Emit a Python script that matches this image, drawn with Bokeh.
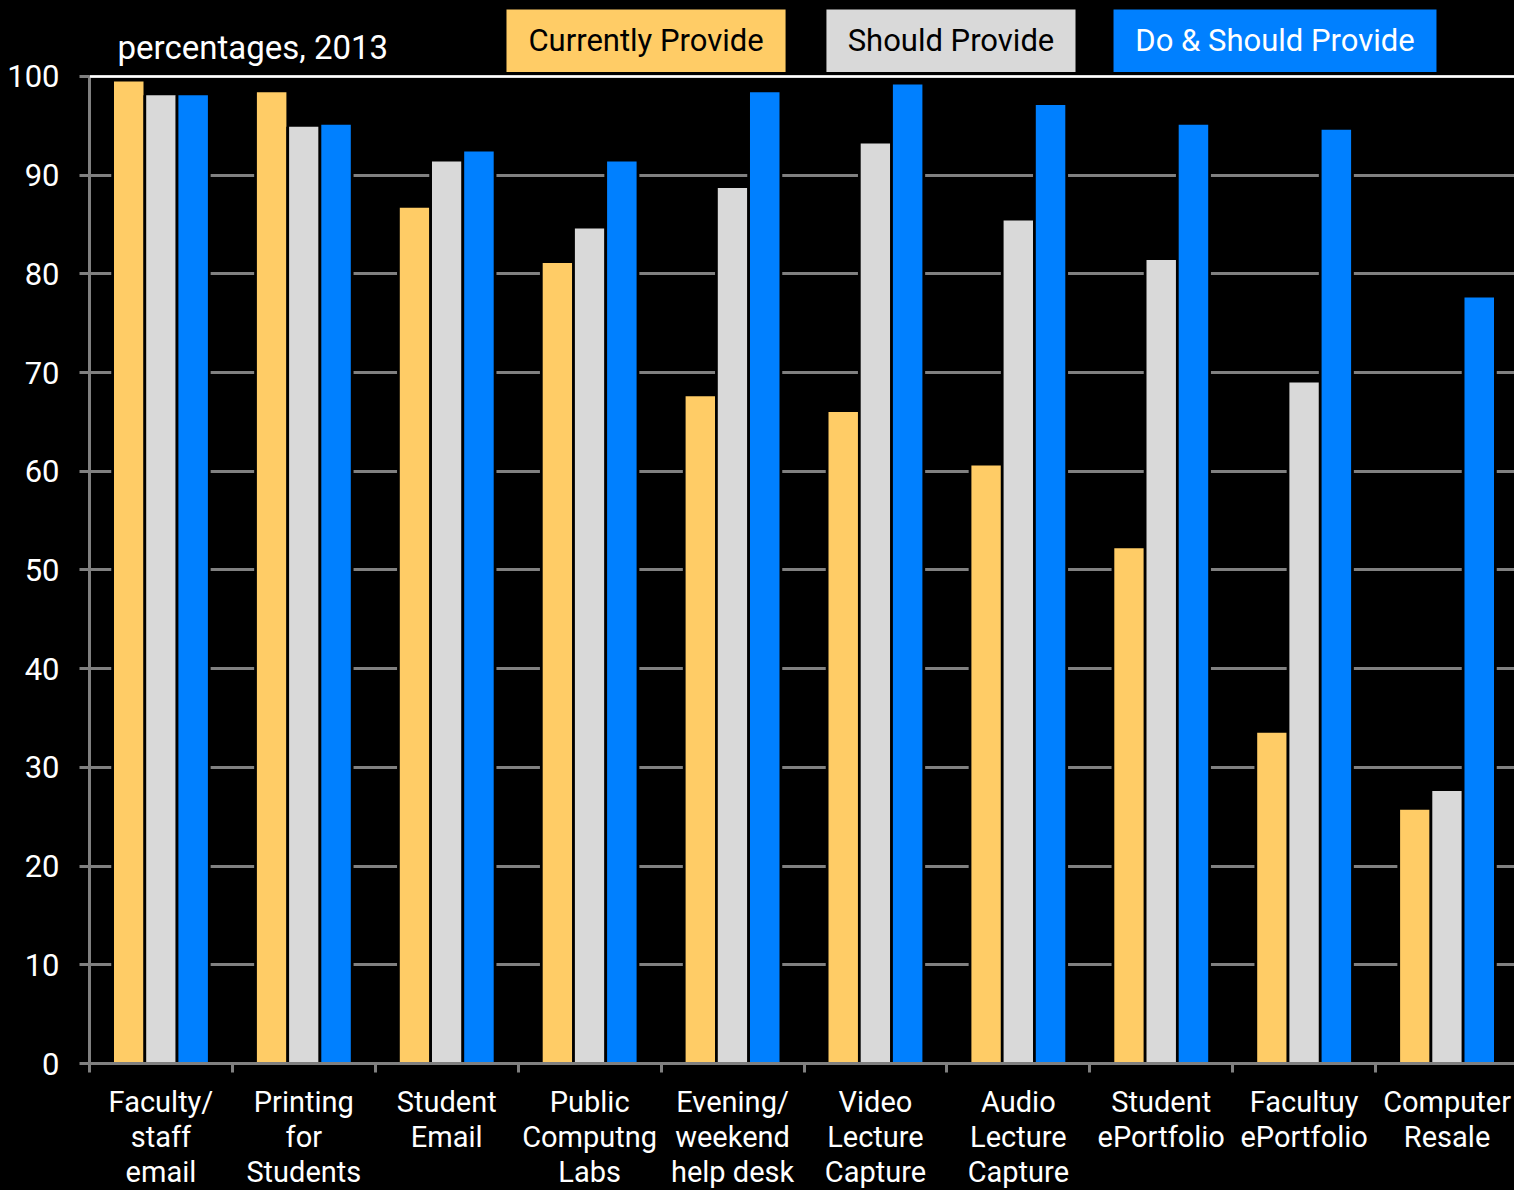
import numpy as np
from bokeh.plotting import figure
from bokeh.layouts import column
from bokeh.models import Range1d, FixedTicker, Span, ColumnDataSource
from bokeh.core.properties import value
from bokeh.embed import file_html
from bokeh.resources import INLINE

# ---------------- data ----------------
categories = ["Faculty/\nstaff\nemail", "Printing\nfor\nStudents", "Student\nEmail",
              "Public\nComputng\nLabs", "Evening/\nweekend\nhelp desk", "Video\nLecture\nCapture",
              "Audio\nLecture\nCapture", "Student\nePortfolio", "Facultuy\nePortfolio",
              "Computer\nResale"]
currently_provide = [99.5, 98.4, 86.7, 81.1, 67.6, 66.0, 60.6, 52.2, 33.5, 25.7]
should_provide = [98.1, 94.9, 91.4, 84.6, 88.7, 93.2, 85.4, 81.4, 69.0, 27.6]
do_and_should = [98.1, 95.1, 92.4, 91.4, 98.4, 99.2, 97.1, 95.1, 94.6, 77.6]
series_names = ["Currently Provide", "Should Provide", "Do & Should Provide"]
y_ticks = [0, 10, 20, 30, 40, 50, 60, 70, 80, 90, 100]
title_text = "percentages, 2013"

# ---------------- style ----------------
FONT = "Roboto"
colors = ["#FFCC66", "#D9D9D9", "#0080FF"]
legend_text_colors = ["#000000", "#000000", "#FFFFFF"]
GRID = "#808080"
BLACK_BG = {"background-color": "black"}

n = len(categories)
centers = np.arange(n) + 0.5
pitch = 0.2253
offsets = [-pitch, 0.0, pitch]

x_range = Range1d(0, 9.972)
p = figure(width=1514, height=1083, output_backend="svg", toolbar_location=None,
           x_range=x_range, y_range=Range1d(0, 107.70),
           min_border_left=89, min_border_right=0, min_border_top=0, min_border_bottom=20,
           styles=BLACK_BG)
p.background_fill_color = "black"
p.border_fill_color = "black"
p.outline_line_color = None

# grid
p.xgrid.grid_line_color = None
p.ygrid.ticker = FixedTicker(ticks=y_ticks)
p.ygrid.grid_line_color = GRID
p.ygrid.grid_line_width = 3

# y axis
p.yaxis.ticker = FixedTicker(ticks=y_ticks)
p.yaxis.bounds = (0, 100)
p.yaxis.axis_line_color = GRID
p.yaxis.axis_line_width = 3
p.yaxis.major_tick_line_color = GRID
p.yaxis.major_tick_line_width = 3
p.yaxis.major_tick_out = 10
p.yaxis.major_tick_in = 0
p.yaxis.minor_tick_line_color = None
p.yaxis.major_label_text_color = "white"
p.yaxis.major_label_text_font = FONT
p.yaxis.major_label_text_font_size = "31px"
p.yaxis.major_label_standoff = 20

# x axis (tick marks at category boundaries; labels drawn in the strip below)
p.xaxis.ticker = FixedTicker(ticks=list(range(n + 1)), minor_ticks=[])
p.xaxis.major_label_text_font_size = "0px"
p.xaxis.major_label_text_color = None
p.xaxis.axis_line_color = GRID
p.xaxis.axis_line_width = 3
p.xaxis.major_tick_line_color = GRID
p.xaxis.major_tick_line_width = 3
p.xaxis.major_tick_out = 9
p.xaxis.major_tick_in = 0
p.xaxis.minor_tick_line_color = None

# bars: black mask behind, coloured bar on top
for vals, off, col in zip([currently_provide, should_provide, do_and_should], offsets, colors):
    src = ColumnDataSource(dict(x=centers + off, top=vals))
    p.vbar(x="x", top="top", width=0.245, bottom=0, source=src,
           fill_color="black", line_color=None)
    p.vbar(x="x", top="top", width=0.2065, bottom=0, source=src,
           fill_color=col, line_color=None)

p.add_layout(Span(location=100, dimension="width", line_color="white", line_width=2.5))

# title text
p.text(x=[0.196], y=[102.9], text=[title_text], text_color="white",
       text_font=value(FONT), text_font_size="33px", text_baseline="alphabetic",
       text_align="left")

# legend boxes
box_left = [2.918, 5.157, 7.166]
box_right = [4.871, 6.900, 9.426]
box_bottom, box_top = 100.45, 106.8
p.quad(left=box_left, right=box_right, bottom=box_bottom, top=box_top,
       fill_color=colors, line_color=None)
p.text(x=[(a + b) / 2 for a, b in zip(box_left, box_right)],
       y=[(box_bottom + box_top) / 2] * 3, text=series_names,
       text_color=legend_text_colors, text_font=value(FONT), text_font_size="31px",
       text_align="center", text_baseline="middle")

# category label strip below the chart
q = figure(width=1514, height=107, output_backend="svg", toolbar_location=None,
           x_range=x_range, y_range=Range1d(-107, 0),
           min_border_left=89, min_border_right=0, min_border_top=0, min_border_bottom=0,
           styles=BLACK_BG)
q.background_fill_color = "black"
q.border_fill_color = "black"
q.outline_line_color = None
q.axis.visible = False
q.grid.grid_line_color = None
q.text(x=centers, y=[-1] * n, text=categories, text_color="white",
       text_font=value(FONT), text_font_size="29px", text_align="center",
       text_baseline="top", text_line_height=1.03)

layout = column(p, q, spacing=0, styles=BLACK_BG)
open("out.html", "w").write(file_html(layout, INLINE))
